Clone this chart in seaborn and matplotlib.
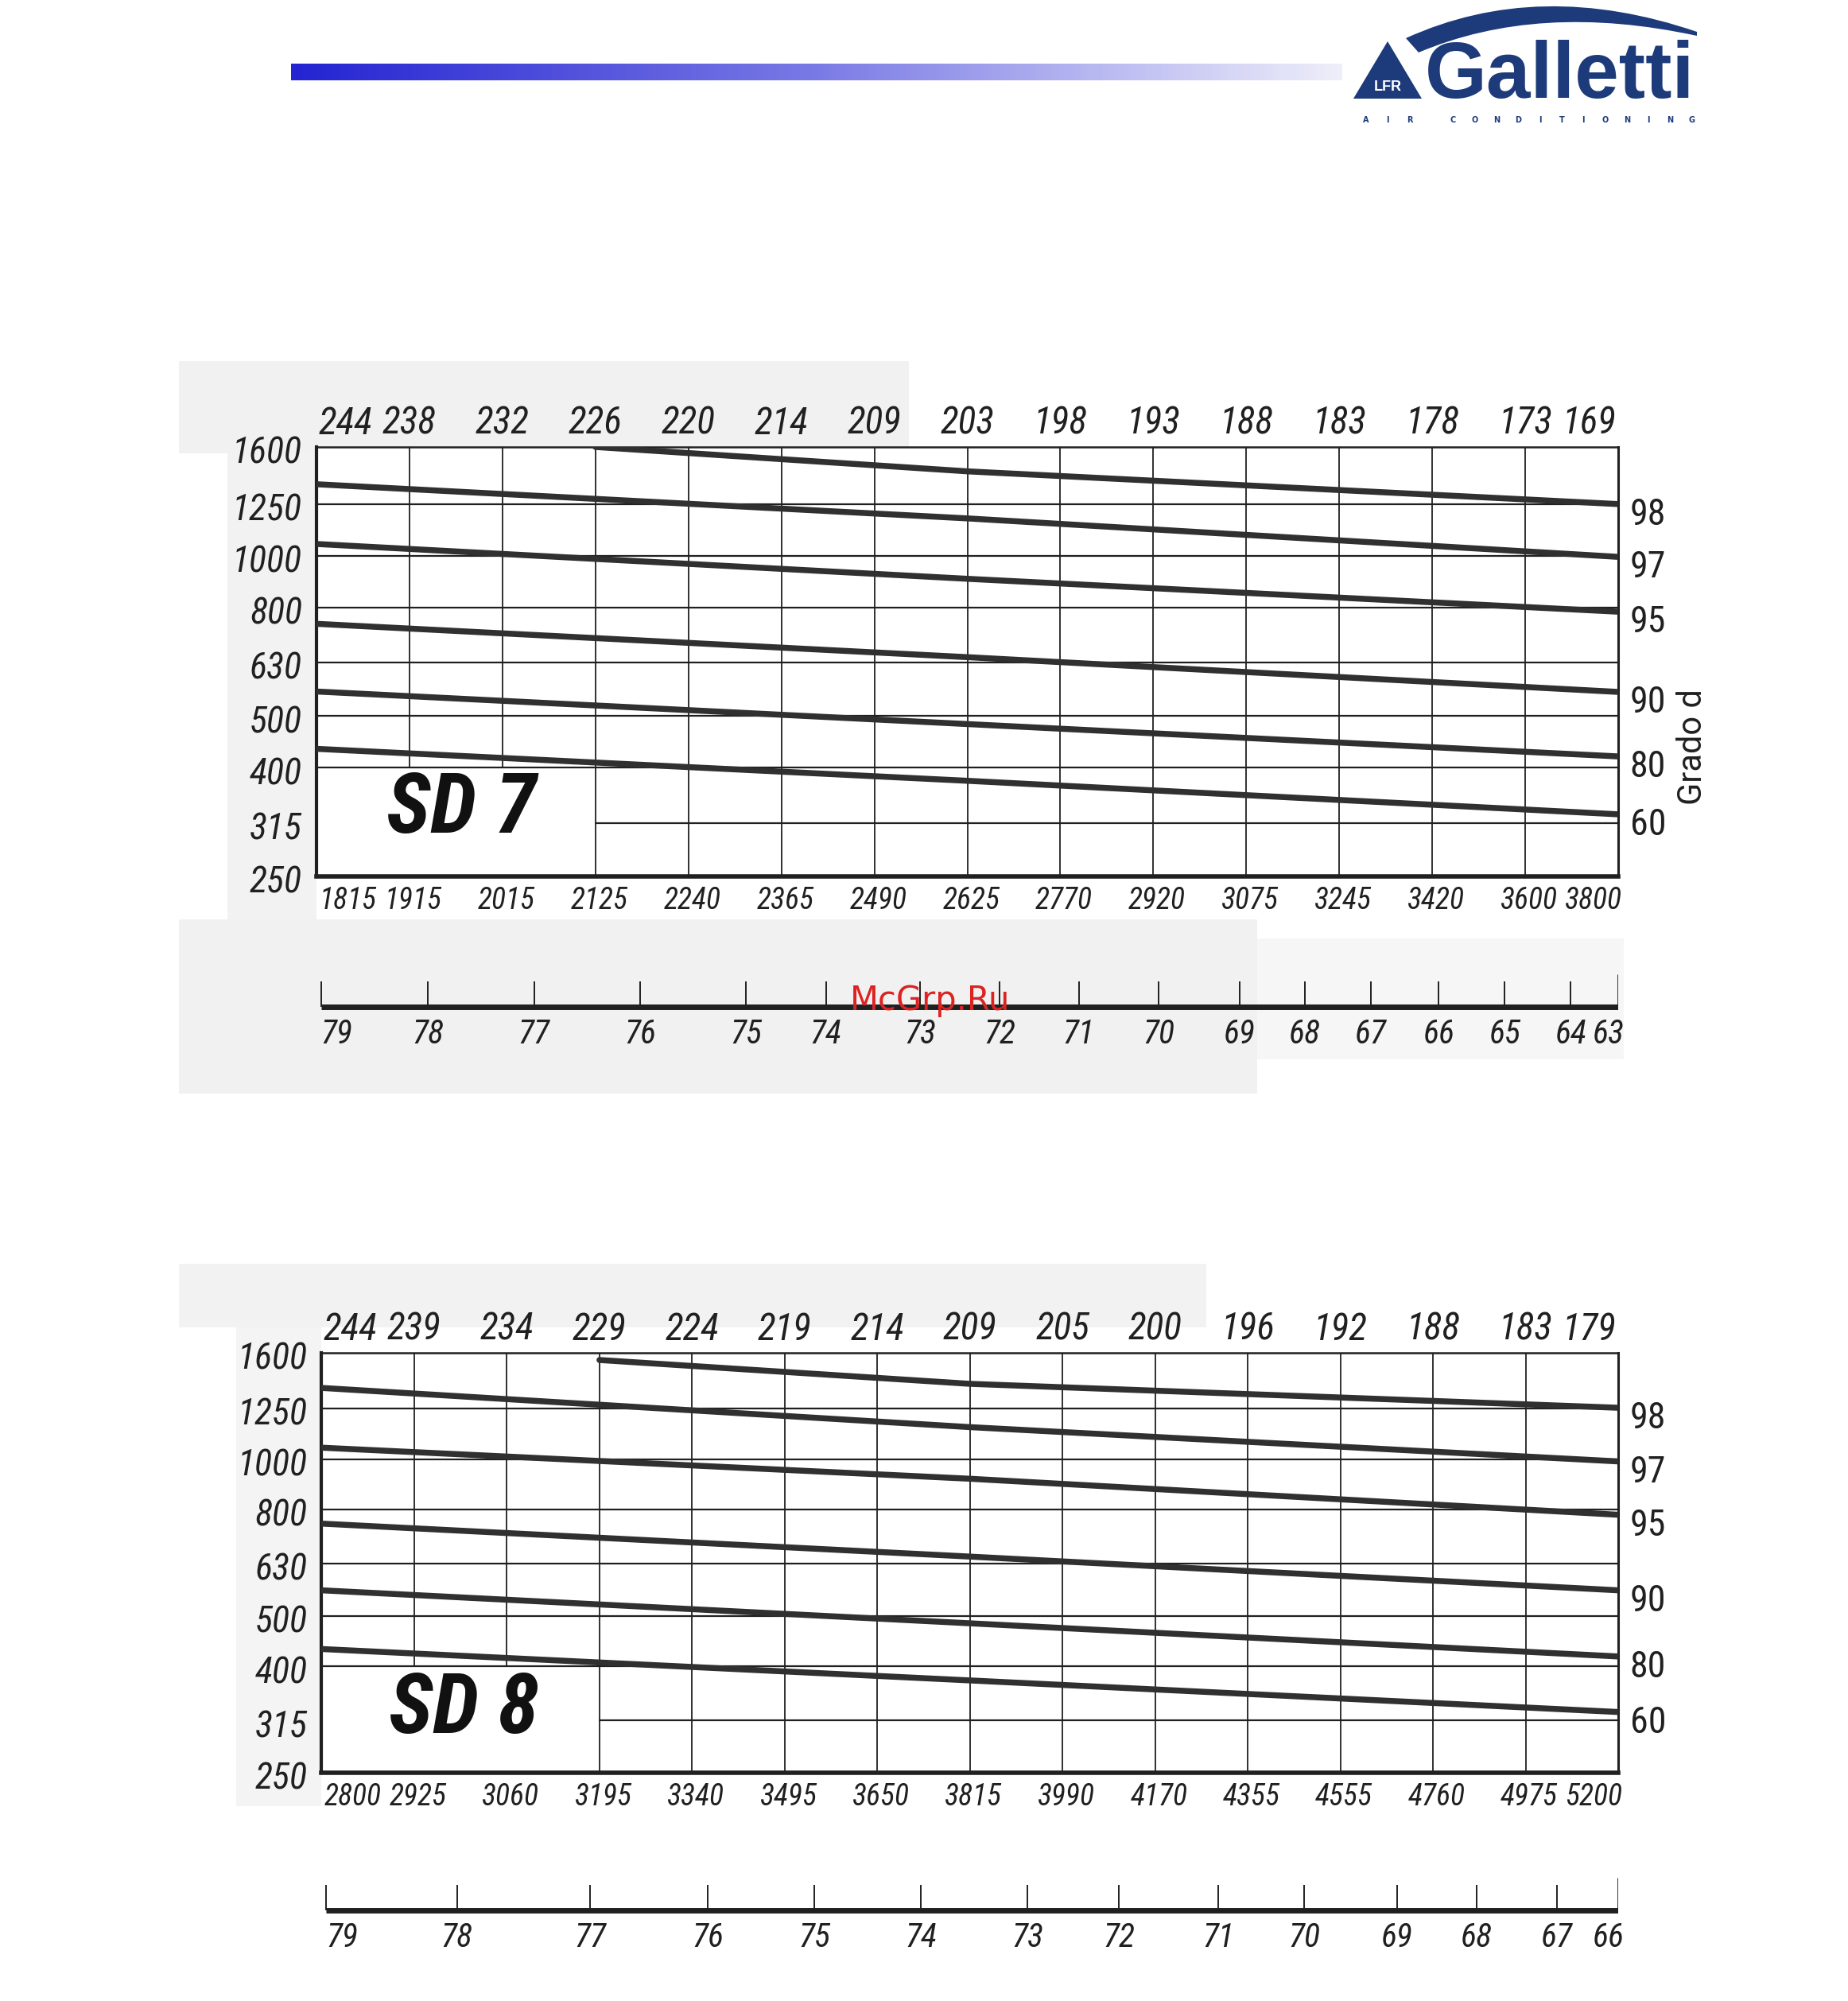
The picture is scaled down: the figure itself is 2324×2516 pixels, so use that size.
import numpy as np
import pandas as pd
import matplotlib
matplotlib.use("Agg")
import matplotlib.pyplot as plt
import matplotlib.transforms as mtransforms
from matplotlib.patches import Polygon, Rectangle, PathPatch
from matplotlib.path import Path
from matplotlib.colors import LinearSegmentedColormap
import seaborn as sns

sns.set_style("white")
plt.rcParams['font.family'] = ['Roboto Condensed', 'DejaVu Sans']

W, H = 2324, 2516
INK = '#202020'
NAVY = '#1d3b7b'

# pressure scale (Pa), log spaced
pressure_ticks = [250, 315, 400, 500, 630, 800, 1000, 1250, 1600]
grades = [98, 97, 95, 90, 80, 60]

# SD 7
sd7_flow = [1815, 1915, 2015, 2125, 2240, 2365, 2490, 2625, 2770, 2920, 3075, 3245, 3420, 3600, 3800]
sd7_top = [244, 238, 232, 226, 220, 214, 209, 203, 198, 193, 188, 183, 178, 173, 169]
sd7_noise = [79, 78, 77, 76, 75, 74, 73, 72, 71, 70, 69, 68, 67, 66, 65, 64, 63]
sd7_noise_pos = [0.05, 1.2, 2.34, 3.48, 4.62, 5.48, 6.49, 7.35, 8.2, 9.06, 9.93, 10.63, 11.34, 12.07, 12.78, 13.49, 14.0]

# SD 8
sd8_flow = [2800, 2925, 3060, 3195, 3340, 3495, 3650, 3815, 3990, 4170, 4355, 4555, 4760, 4975, 5200]
sd8_top = [244, 239, 234, 229, 224, 219, 214, 209, 205, 200, 196, 192, 188, 183, 179]
sd8_noise = [79, 78, 77, 76, 75, 74, 73, 72, 71, 70, 69, 68, 67, 66]
sd8_noise_pos = [0.05, 1.46, 2.9, 4.17, 5.32, 6.47, 7.62, 8.61, 9.68, 10.61, 11.61, 12.47, 13.34, 14.0]

# efficiency curves: column index -> pressure
cols_98 = [3, 7, 14]
cols_std = [0, 7, 14]
sd7_curves = {98: [1600, 1440, 1250], 97: [1362, 1175, 995], 95: [1052, 905, 785],
              90: [745, 645, 555], 80: [556, 483, 420], 60: [434, 378, 327]}
sd8_curves = {98: [1550, 1395, 1255], 97: [1370, 1152, 990], 95: [1052, 917, 782],
              90: [752, 650, 560], 80: [560, 484, 418], 60: [432, 376, 327]}


fig = plt.figure(figsize=(W / 100, H / 100), dpi=100)
fig.patch.set_facecolor('white')

# background canvas for header, logo and scan-like gray patches
canvas = fig.add_axes([0, 0, 1, 1], zorder=-1)
canvas.axis('off')
for (x0, y0, x1, y1, c) in [(225, 454, 1143, 570, '#f1f1f1'), (286, 570, 398, 1156, '#f2f2f2'),
                            (225, 1156, 1581, 1375, '#f1f1f1'), (1581, 1180, 2042, 1332, '#f6f6f6'),
                            (225, 1589, 1517, 1669, '#f2f2f2'), (297, 1669, 404, 2271, '#f4f4f4')]:
    canvas.add_patch(Rectangle((x0, y0), x1 - x0, y1 - y0, color=c, lw=0))

grad = LinearSegmentedColormap.from_list('bar', ['#2424d2', '#7a7ae6', '#eeeefa'])
canvas.imshow(np.linspace(0, 1, 400).reshape(1, -1), cmap=grad, aspect='auto',
              extent=(366, 1688, 101, 80))

# logo
canvas.add_patch(Polygon([(1702, 124), (1788, 124), (1745, 52)], closed=True, color=NAVY, lw=0))
canvas.text(1745, 110, 'LFR', color='white', fontsize=13, weight='bold', ha='center', va='center',
            family='Liberation Sans')
arc = Path([(1768, 48), (1935, -28), (2134, 40), (2134, 45), (1935, 2), (1784, 66), (1768, 48)],
           [Path.MOVETO, Path.CURVE3, Path.CURVE3, Path.LINETO, Path.CURVE3, Path.CURVE3, Path.CLOSEPOLY])
canvas.add_patch(PathPatch(arc, color=NAVY, lw=0))
canvas.text(1792, 123, 'Galletti', fontsize=72, weight='bold', family='Liberation Sans',
            color=NAVY, ha='left', va='baseline')
for ch, xp in zip("AIR CONDITIONING", np.linspace(1718, 2128, 16)):
    canvas.text(xp, 151, ch, fontsize=7, weight='bold', color=NAVY, ha='center', va='center',
                family='DejaVu Sans')
canvas.set_xlim(0, W)
canvas.set_ylim(H, 0)


def draw_chart(rect, flow, top, curves, title, title_xy, noise, noise_pos, scale_rect):
    ax = fig.add_axes(rect)
    ax.set_facecolor('white')
    ax.set_yscale('log')
    ax.tick_params(axis='both', which='both', left=False, bottom=False,
                   labelleft=False, labelbottom=False)

    # thin grid, left-bottom cells kept free for the model name
    for i in range(1, 14):
        ymin = 400 if i < 3 else 250
        ax.plot([i, i], [ymin, 1600], color=INK, lw=1.3, zorder=1)
    for p in pressure_ticks[1:-1]:
        x0 = 3 if p == 315 else 0
        ax.plot([x0, 14], [p, p], color=INK, lw=1.6, zorder=1)

    rows = []
    for g in grades:
        cols = cols_98 if g == 98 else cols_std
        for c, v in zip(cols, curves[g]):
            rows.append({'col': c, 'pa': v, 'grade': g})
    df = pd.DataFrame(rows)
    sns.lineplot(data=df, x='col', y='pa', hue='grade', palette=['#303030'] * len(grades),
                 linewidth=5.4, legend=False, ax=ax, estimator=None, sort=False, zorder=3)
    ax.set_xlim(0, 14)
    ax.set_ylim(250, 1600)
    ax.set_xlabel('')
    ax.set_ylabel('')

    for side, lw in [('left', 3.0), ('bottom', 4.0), ('top', 1.8), ('right', 2.2)]:
        ax.spines[side].set_linewidth(lw)
        ax.spines[side].set_color(INK)

    # y labels
    ytr = mtransforms.offset_copy(mtransforms.blended_transform_factory(ax.transAxes, ax.transData),
                                  fig=fig, x=0, y=-8, units='dots')
    for p in pressure_ticks:
        ax.text(-0.011, p, str(p), transform=ytr, ha='right', va='center', fontsize=33,
                style='italic', color=INK)

    # top and bottom labels
    ttr = mtransforms.offset_copy(mtransforms.blended_transform_factory(ax.transData, ax.transAxes),
                                  fig=fig, x=0, y=6, units='dots')
    btr = mtransforms.offset_copy(mtransforms.blended_transform_factory(ax.transData, ax.transAxes),
                                  fig=fig, x=0, y=-12, units='dots')
    for i, (t, f) in enumerate(zip(top, flow)):
        if i == 0:
            xt, xb, ha = 0.02, 0.03, 'left'
        elif i == len(top) - 1:
            xt, xb, ha = 13.98, 14.04, 'right'
        else:
            xt, xb, ha = i, i + 0.04, 'center'
        ax.text(xt, 1.0, str(t), transform=ttr, ha=ha, va='bottom', fontsize=34,
                style='italic', color=INK)
        ax.text(xb, 0.0, str(f), transform=btr, ha=ha, va='top', fontsize=27,
                style='italic', color=INK)

    # efficiency labels on the right
    rtr = mtransforms.offset_copy(mtransforms.blended_transform_factory(ax.transAxes, ax.transData),
                                  fig=fig, x=0, y=-13, units='dots')
    for g in grades:
        ax.text(1.009, curves[g][-1], str(g), transform=rtr, ha='left', va='center',
                fontsize=33, color=INK, clip_on=False)

    ax.text(title_xy[0], title_xy[1], title, fontsize=76, weight='bold', style='italic',
            ha='center', va='center', color='#111111', zorder=4)

    # noise scale under the chart
    axs = fig.add_axes(scale_rect)
    axs.set_xlim(0, 14)
    axs.set_ylim(0, 1)
    axs.axis('off')
    axs.plot([noise_pos[0], noise_pos[-1]], [0.53, 0.53], color=INK, lw=5.0, solid_capstyle='butt')
    axs.vlines(noise_pos[:-1], 0.53, 0.76, color=INK, lw=1.4)
    axs.vlines(noise_pos[-1], 0.53, 0.82, color=INK, lw=2.0)
    for j, (n, xp) in enumerate(zip(noise, noise_pos)):
        if j == 0:
            xl, ha = xp, 'left'
        elif j == len(noise) - 1:
            xl, ha = xp + 0.07, 'right'
        else:
            xl, ha = xp, 'center'
        axs.text(xl, 0.28, str(n), ha=ha, va='center', fontsize=30, style='italic', color=INK)
    return ax


draw_chart([0.17126, 0.56200, 0.70439, 0.21463], sd7_flow, sd7_top, sd7_curves, 'SD 7', (1.56, 333),
           sd7_noise, sd7_noise_pos, [0.17126, 0.46741, 0.70439, 0.05564])
draw_chart([0.17405, 0.11407, 0.70160, 0.20986], sd8_flow, sd8_top, sd8_curves, 'SD 8', (1.54, 330),
           sd8_noise, sd8_noise_pos, [0.17405, 0.01590, 0.70160, 0.05564])

fig.text(2128 / W, 1 - 939 / H, 'Grado d', rotation=90, ha='center', va='center', fontsize=30,
         color=INK, family='Roboto')
fig.text(1170 / W, 1 - 1258 / H, 'McGrp.Ru', ha='center', va='center', fontsize=30,
         color='#dd2222', family='DejaVu Sans', zorder=10)

fig.savefig('out.png', dpi=100, facecolor='white')
